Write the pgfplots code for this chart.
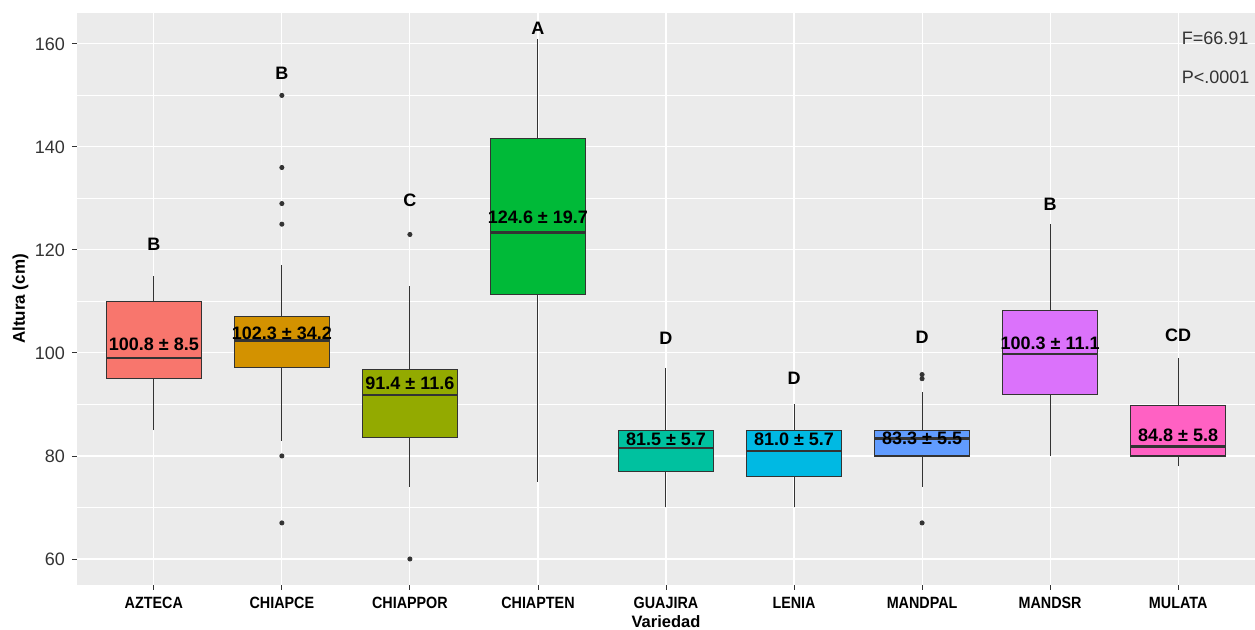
\documentclass[border=0pt]{standalone}
\usepackage{fontspec}
\setmainfont{Liberation Sans}
\newfontfamily\narrowfont[FakeStretch=0.88]{Liberation Sans}
\usepackage{pgfplots}
\pgfplotsset{compat=1.18}
\definecolor{c1}{HTML}{F8766D}
\definecolor{c2}{HTML}{D39200}
\definecolor{c3}{HTML}{93AA00}
\definecolor{c4}{HTML}{00BA38}
\definecolor{c5}{HTML}{00C19F}
\definecolor{c6}{HTML}{00B9E3}
\definecolor{c7}{HTML}{619CFF}
\definecolor{c8}{HTML}{DB72FB}
\definecolor{c9}{HTML}{FF61C3}
\definecolor{gtwenty}{HTML}{333333}
\definecolor{panel}{HTML}{EBEBEB}
% #1 position, #2 left edge, #3 right edge, #4 fill colour,
% #5 lower whisker, #6 lower quartile, #7 median, #8 upper quartile, #9 upper whisker
\newcommand{\mybox}[9]{%
  \addplot[draw=gtwenty, line width=0.5pt, forget plot] coordinates {(#1,#5) (#1,#6)};
  \addplot[draw=gtwenty, line width=0.5pt, forget plot] coordinates {(#1,#8) (#1,#9)};
  \addplot[draw=gtwenty, fill=#4, line width=0.6pt, forget plot] coordinates {(#2,#6) (#3,#6) (#3,#8) (#2,#8)} -- cycle;
  \addplot[draw=gtwenty, line width=1.2pt, forget plot] coordinates {(#2,#7) (#3,#7)};
}
\tikzset{lab/.style={font=\fontsize{9}{10}\selectfont\bfseries, text=black, inner sep=0pt}}
\begin{document}
\begin{tikzpicture}
\begin{axis}[at={(38.5pt,22.5pt)}, anchor=south west, scale only axis,
  width=589pt, height=286pt,
  xmin=-0.6, xmax=8.6, ymin=54.95, ymax=166.0,
  axis background/.style={fill=panel},
  axis line style={draw=none},
  xtick={0,...,8},
  xticklabels={AZTECA,CHIAPCE,CHIAPPOR,CHIAPTEN,GUAJIRA,LENIA,MANDPAL,MANDSR,MULATA},
  ytick={60,80,...,160}, minor ytick={70,90,...,150},
  grid=both, major grid style={white, line width=0.55pt},
  minor grid style={white, line width=0.28pt},
  tick align=outside, tick pos=left, major tick length=2.5pt, minor tick length=0pt,
  tick style={gtwenty, line width=0.45pt},
  /pgf/number format/assume math mode=true,
  yticklabel style={font=\fontsize{9}{10}\selectfont, text=gtwenty, anchor=east},
  xticklabel style={font=\narrowfont\fontsize{8.15}{9}\selectfont\bfseries, text=black},
  xlabel={Variedad}, ylabel={Altura (cm)},
  xlabel style={at={(rel axis cs:0.5,0)}, anchor=base, yshift=-21.5pt,
    font=\fontsize{8.25}{9}\selectfont\bfseries},
  ylabel style={at={(rel axis cs:0,0.5)}, anchor=center, yshift=28.25pt,
    font=\fontsize{8.5}{10}\selectfont\bfseries},
  clip=false,
]
%        pos  left  right color lw  q1    med    q3    uw
\mybox{0}{-0.37}{0.37}{c1}{85}{95}{99}{110}{115}
\mybox{1}{0.63}{1.37}{c2}{83}{97.2}{102.4}{107}{117}
\mybox{2}{1.63}{2.37}{c3}{74}{83.6}{91.8}{96.8}{113}
\mybox{3}{2.63}{3.37}{c4}{75}{111.4}{123.4}{141.7}{161}
\mybox{4}{3.63}{4.37}{c5}{70}{77}{81.6}{85}{97}
\mybox{5}{4.63}{5.37}{c6}{70}{76}{81}{85}{90}
\mybox{6}{5.63}{6.37}{c7}{74}{80}{83.4}{85}{92.4}
\mybox{7}{6.63}{7.37}{c8}{80}{92}{99.8}{108.3}{125}
\mybox{8}{7.63}{8.37}{c9}{78}{80}{81.8}{89.8}{99}
% outliers
\addplot[only marks, mark=*, mark size=1.05pt, draw=gtwenty, fill=gtwenty]
  coordinates {(1,150) (1,136) (1,129) (1,125) (1,80) (1,67)
               (2,123) (2,60) (6,95.8) (6,95.0) (6,67)};

% mean labels
\node[lab] at (axis cs:0,101.7) {100.8 ± 8.5};
\node[lab] at (axis cs:1,103.8) {102.3 ± 34.2};
\node[lab] at (axis cs:2,94.1) {91.4 ± 11.6};
\node[lab] at (axis cs:3,126.3) {124.6 ± 19.7};
\node[lab] at (axis cs:4,83.2) {81.5 ± 5.7};
\node[lab] at (axis cs:5,83.2) {81.0 ± 5.7};
\node[lab] at (axis cs:6,83.4) {83.3 ± 5.5};
\node[lab] at (axis cs:7,101.9) {100.3 ± 11.1};
\node[lab] at (axis cs:8,84.1) {84.8 ± 5.8};
% letters
\node[lab] at (axis cs:0,121) {B};
\node[lab] at (axis cs:1,154.2) {B};
\node[lab] at (axis cs:2,129.7) {C};
\node[lab] at (axis cs:3,163.1) {A};
\node[lab] at (axis cs:4,102.9) {D};
\node[lab] at (axis cs:5,95) {D};
\node[lab] at (axis cs:6,103) {D};
\node[lab] at (axis cs:7,128.9) {B};
\node[lab] at (axis cs:8,103.5) {CD};
\node[anchor=west, inner sep=0pt, font=\fontsize{9}{10}\selectfont, text=gtwenty] at (axis cs:8.025,161.0) {F=66.91};
\node[anchor=west, inner sep=0pt, font=\fontsize{9}{10}\selectfont, text=gtwenty] at (axis cs:8.025,153.6) {P<.0001};
\end{axis}
\pgfresetboundingbox
\path[use as bounding box] (0pt,0pt) rectangle (627.5pt,315pt);
\end{tikzpicture}
\end{document}
